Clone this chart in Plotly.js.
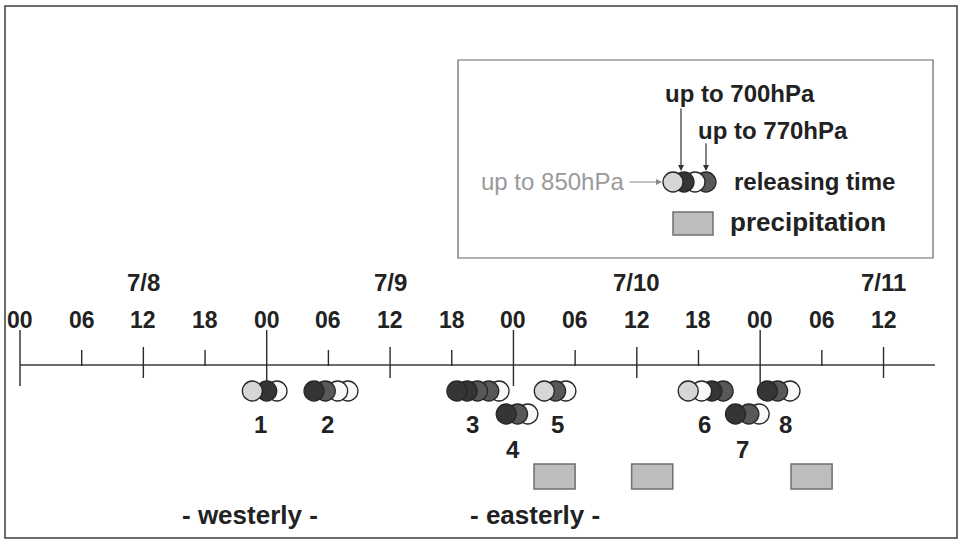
<!DOCTYPE html>
<html><head><meta charset="utf-8">
<script src="https://cdn.plot.ly/plotly-3.0.1.min.js"></script>
<style>html,body{margin:0;padding:0;background:#fff}#chart{width:961px;height:542px}</style>
</head><body><div id="chart"></div>
<script>
// ---------------- DATA (time = hours after 7/8 00) ----------------
const tickHours  = [0, 6, 12, 18, 24, 30, 36, 42, 48, 54, 60, 66, 72, 78, 84];
const tickLabels = ['00','06','12','18','00','06','12','18','00','06','12','18','00','06','12'];
const dateHours  = [12, 36, 60, 84];
const dateLabels = ['7/8', '7/9', '7/10', '7/11'];

// sonde releases: group number, release hour, shade code
// shade: L = up to 850hPa (light grey), D = up to 700hPa (dark), M = up to 770hPa (dark grey), W = white
const releaseGroup = [1,1,1, 2,2,2,2, 3,3,3,3,3, 4,4,4, 5,5,5, 6,6,6,6, 7,7,7, 8,8,8];
const releaseHour  = [22.6,24.0,25.0, 28.6,29.7,30.9,31.9, 42.5,43.5,44.5,45.6,46.6,
                      47.3,48.4,49.4, 51.0,52.1,53.1, 65.0,66.3,67.3,68.4, 69.6,70.9,71.9, 72.7,73.7,74.9];
const releaseShade = ['L','D','W', 'D','M','W','W', 'D','D','M','M','W',
                      'D','M','W', 'L','M','W', 'L','W','D','M', 'D','M','W', 'D','M','W'];
const groupNames     = ['1','2','3','4','5','6','7','8'];
const groupLabelHour = [23.4, 29.9, 44.0, 48.0, 52.3, 66.6, 70.3, 74.5];

const precipStart = [50.0, 59.5, 75.0];
const precipEnd   = [54.0, 63.5, 79.0];

const regimeNames = ['- westerly -', '- easterly -'];
const regimeHour  = [22.4, 50.1];

const legendShades = ['L','D','W','M'];
const legendLevels = ['up to 850hPa', 'up to 700hPa', 'up to 770hPa'];
const legendItems  = ['releasing time', 'precipitation'];

// ---------------- STYLE / LAYOUT ----------------
const W = 961, H = 542;
const FONT = '"Liberation Sans", Arial, Helvetica, sans-serif';
const TXT = '#222';
const SHADE = {L:'#d6d6d6', D:'#353535', M:'#585858', W:'#f8f8f8'};
const lowerRow = new Set([4, 7]);
const Y = {axis:365, hour:320, date:282, rowA:391, rowB:414, numA:424, numB:449,
           p0:464, p1:489, regime:515};
const AXIS_END = 89;
const X0PX = 20, PXH = 10.28;           // horizontal scale: pixels at 7/8 00, pixels per hour
const px = v => v / W, py = v => 1 - v / H;
const F = (size, color, bold) => ({family:FONT, size:size, color:color || TXT, weight: bold === false ? 'normal' : 'bold'});

// ---------------- TRACES ----------------
const tickX = [], tickY = [];
tickHours.forEach(h => {
  let top, bot;
  if (h % 24 === 0) { top = 330; bot = 386; }
  else if (h % 12 === 0) { top = 347; bot = 378; }
  else { top = 350; bot = 366; }
  tickX.push(h, h, null); tickY.push(top, bot, null);
});
const axisTrace = {x:[0, AXIS_END], y:[Y.axis, Y.axis], mode:'lines',
  line:{color:'#3a3a3a', width:1.4}, hoverinfo:'skip', showlegend:false};
const tickTrace = {x:tickX, y:tickY, mode:'lines',
  line:{color:'#2a2a2a', width:1.4}, hoverinfo:'skip', showlegend:false};

// earlier releases drawn on top -> reverse order
const cx = [], cy = [], cc = [];
for (let i = releaseHour.length - 1; i >= 0; i--) {
  cx.push(releaseHour[i]);
  cy.push(lowerRow.has(releaseGroup[i]) ? Y.rowB : Y.rowA);
  cc.push(SHADE[releaseShade[i]]);
}
const circleTrace = {x:cx, y:cy, mode:'markers', hoverinfo:'skip', showlegend:false,
  marker:{size:20, color:cc, line:{color:'#262626', width:1.3}}};

// ---------------- SHAPES ----------------
const shapes = [];
shapes.push({type:'rect', xref:'paper', yref:'paper', x0:px(5), x1:px(957), y0:py(538), y1:py(6),
  line:{color:'#3c3c3c', width:1.5}});
shapes.push({type:'rect', xref:'paper', yref:'paper', x0:px(458), x1:px(933), y0:py(258), y1:py(60),
  line:{color:'#666', width:1.2}});
precipStart.forEach((s, i) => shapes.push({type:'rect', xref:'x', yref:'y',
  x0:s, x1:precipEnd[i], y0:Y.p0, y1:Y.p1, fillcolor:'#bdbdbd', line:{color:'#6f6f6f', width:1.5}, layer:'above'}));
const LCX = [673, 684, 695, 706];
for (let i = legendShades.length - 1; i >= 0; i--) {
  shapes.push({type:'circle', xref:'paper', yref:'paper',
    x0:px(LCX[i]-10), x1:px(LCX[i]+10), y0:py(192), y1:py(172),
    fillcolor:SHADE[legendShades[i]], line:{color:'#262626', width:1.3}});
}
shapes.push({type:'rect', xref:'paper', yref:'paper', x0:px(673), x1:px(713), y0:py(235), y1:py(212),
  fillcolor:'#bdbdbd', line:{color:'#6f6f6f', width:1.5}});

// ---------------- ANNOTATIONS ----------------
const ann = [];
const txt = (o) => Object.assign({showarrow:false, xanchor:'center', yanchor:'middle'}, o);
tickHours.forEach((h, i) => ann.push(txt({x:h, y:Y.hour, xref:'x', yref:'y', text:tickLabels[i], font:F(23)})));
dateHours.forEach((h, i) => ann.push(txt({x:h, y:Y.date, xref:'x', yref:'y', text:dateLabels[i], font:F(24)})));
groupNames.forEach((g, i) => ann.push(txt({x:groupLabelHour[i], y: lowerRow.has(i+1) ? Y.numB : Y.numA,
  xref:'x', yref:'y', text:g, font:F(24)})));
regimeNames.forEach((r, i) => ann.push(txt({x:regimeHour[i], y:Y.regime, xref:'x', yref:'y', text:r, font:F(26)})));
// legend texts
ann.push(txt({x:px(626), y:py(181), xref:'paper', yref:'paper', xanchor:'right', text:legendLevels[0], font:F(24, '#9a9a9a', false)}));
ann.push(txt({x:px(740), y:py(94), xref:'paper', yref:'paper', text:legendLevels[1], font:F(24)}));
ann.push(txt({x:px(773), y:py(131), xref:'paper', yref:'paper', text:legendLevels[2], font:F(24)}));
ann.push(txt({x:px(732), y:py(181), xref:'paper', yref:'paper', xanchor:'left', text:legendItems[0], font:F(24)}));
ann.push(txt({x:px(728), y:py(222), xref:'paper', yref:'paper', xanchor:'left', text:legendItems[1], font:F(26)}));
// legend arrows
const arrow = (hx, hy, ax, ay, col) => ({x:px(hx), y:py(hy), xref:'paper', yref:'paper', text:'',
  showarrow:true, ax:ax, ay:ay, arrowhead:2, arrowsize:1, arrowwidth:1.2, arrowcolor:col, standoff:0, startstandoff:0});
ann.push(arrow(662, 182, -34, 0, '#888'));
ann.push(arrow(681, 171, 0, -64, '#333'));
ann.push(arrow(706, 171, 0, -29, '#333'));

// ---------------- LAYOUT ----------------
const xr0 = -X0PX / PXH, xr1 = xr0 + W / PXH;
const layout = {
  width:W, height:H, margin:{l:0, r:0, t:0, b:0},
  paper_bgcolor:'#fff', plot_bgcolor:'#fff', showlegend:false,
  xaxis:{range:[xr0, xr1], visible:false, fixedrange:true},
  yaxis:{range:[H, 0], visible:false, fixedrange:true},
  shapes:shapes, annotations:ann
};
Plotly.newPlot('chart', [axisTrace, tickTrace, circleTrace], layout, {staticPlot:true, displayModeBar:false});
</script></body></html>
